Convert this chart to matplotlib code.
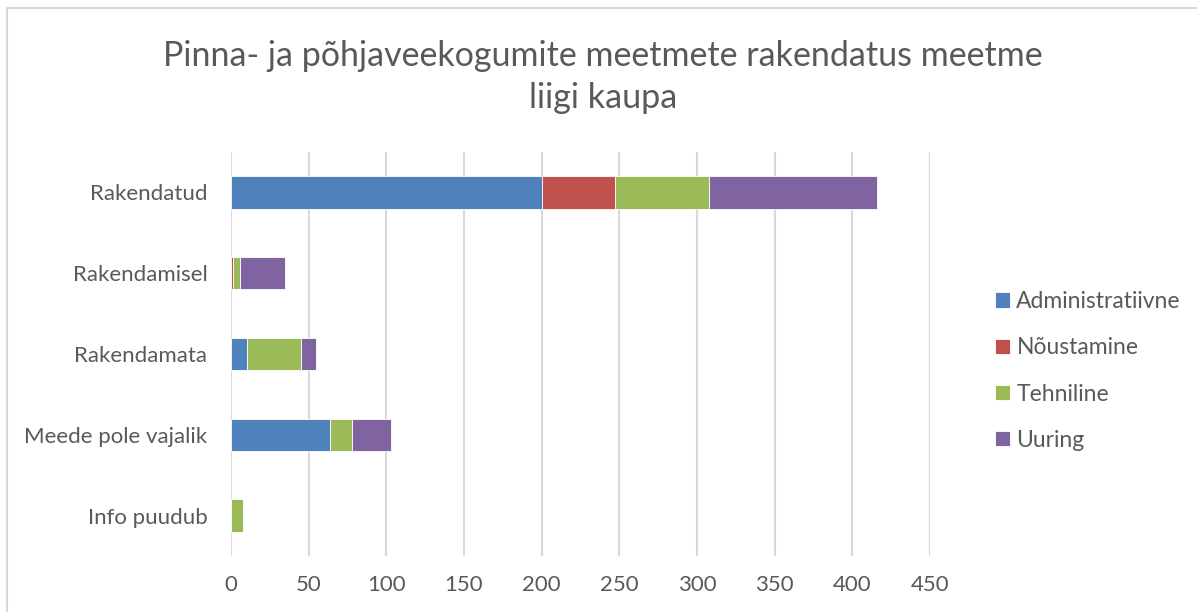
import matplotlib
matplotlib.use("Agg")
import matplotlib.pyplot as plt
import numpy as np
from matplotlib.patches import Rectangle

categories = ["Rakendatud", "Rakendamisel", "Rakendamata", "Meede pole vajalik", "Info puudub"]
series = ["Administratiivne", "Nõustamine", "Tehniline", "Uuring"]
administratiivne = [200, 0, 10, 64, 0]
noustamine = [47, 1, 0, 0, 0]
tehniline = [61, 5, 35, 14, 8]
uuring = [108, 29, 10, 25, 0]
colors = ["#4f81bd", "#c0504d", "#9bbb59", "#8064a2"]
xticks = [0, 50, 100, 150, 200, 250, 300, 350, 400, 450]

plt.rcParams['font.family'] = ['Lato', 'DejaVu Sans']
text_color = "#595959"

fig = plt.figure(figsize=(11.97, 6.12), dpi=100)
ax = fig.add_axes([231/1197, 1 - 556/612, (930-231)/1197, (556-152)/612])

y = np.arange(len(categories))
left = np.zeros(len(categories))
for name, vals, c in zip(series, [administratiivne, noustamine, tehniline, uuring], colors):
    ax.barh(y, vals, height=0.4, left=left, color=c, label=name, zorder=3,
            edgecolor="white", linewidth=0.6)
    left = left + np.array(vals)

ax.set_ylim(len(categories) - 0.5, -0.5)
ax.set_xlim(0, 450)
ax.set_xticks(xticks)
ax.set_yticks(y)
ax.set_yticklabels(categories)
ax.grid(axis="x", color="#d9d9d9", linewidth=1.5, zorder=0)
for s in ax.spines.values():
    s.set_visible(False)
ax.tick_params(axis="both", length=0, labelsize=16, colors=text_color)
ax.tick_params(axis="y", pad=17)
ax.tick_params(axis="x", pad=14)

fig.text(603/1197, 1 - 77/612, "Pinna- ja põhjaveekogumite meetmete rakendatus meetme\nliigi kaupa",
         ha="center", va="center", fontsize=24.5, color=text_color, linespacing=1.4)

handles, labels = ax.get_legend_handles_labels()
leg = fig.legend(handles, labels, loc="center left", bbox_to_anchor=(974/1197, 1 - 371/612),
                 frameon=False, fontsize=16.5, handlelength=0.65, handleheight=0.65,
                 handletextpad=0.3, labelspacing=1.1, labelcolor=text_color)

fig.add_artist(Rectangle((7/1197, -0.1), 1.2, 1 - 8/612 + 0.1, transform=fig.transFigure,
                         fill=False, edgecolor="#d9d9d9", linewidth=1.5))

plt.savefig("out.png", dpi=100)
